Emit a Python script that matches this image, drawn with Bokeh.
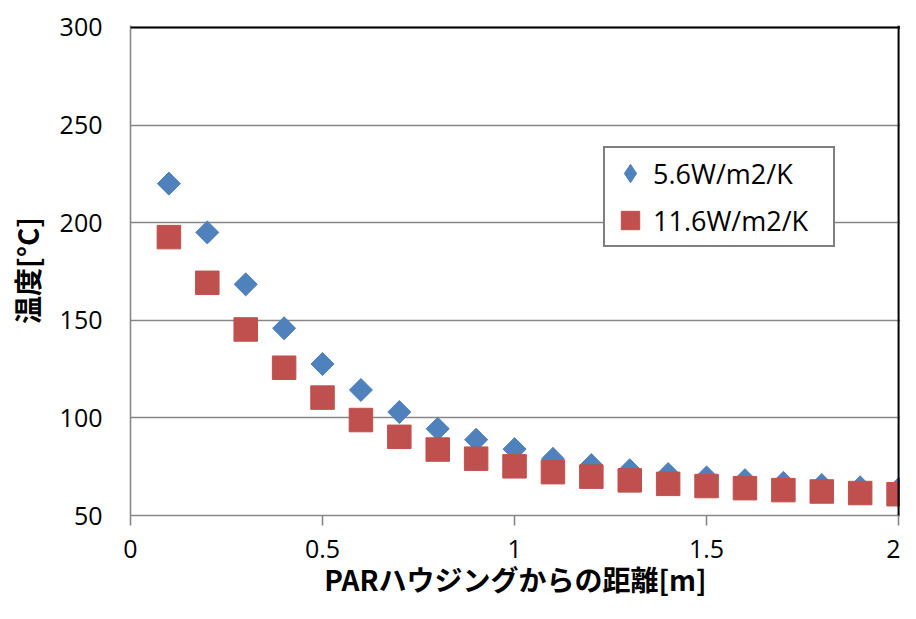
import math
from bokeh.plotting import figure
from bokeh.models import Range1d, Span, Legend, LegendItem, FixedTicker, ColumnDataSource
from bokeh.embed import file_html
from bokeh.resources import INLINE

distance = [0.1, 0.2, 0.3, 0.4, 0.5, 0.6, 0.7, 0.8, 0.9, 1.0,
            1.1, 1.2, 1.3, 1.4, 1.5, 1.6, 1.7, 1.8, 1.9, 2.0]
temp_56 = [220, 195, 168.4, 145.9, 127.6, 114.3, 103, 94.4, 88.8, 84,
           79, 75.8, 73.2, 71.2, 69.5, 68.1, 66.7, 65.6, 64.4, 63.5]
temp_116 = [192.6, 169.2, 145.3, 125.7, 110.4, 98.9, 90.3, 83.8, 79.1, 75.2,
            72.2, 69.9, 68, 66.2, 65.1, 64, 63, 62.3, 61.5, 60.9]
x_ticks = [0, 0.5, 1, 1.5, 2]
y_ticks = [50, 100, 150, 200, 250, 300]
label_56 = "5.6W/m2/K"
label_116 = "11.6W/m2/K"
x_title = "PARハウジングからの距離[m]"
y_title = "温度[°C]"

BLUE = "#4F81BD"
RED = "#C0504D"
GRID = "#878787"

p = figure(width=900, height=603, output_backend="svg", toolbar_location=None,
           x_range=Range1d(0, 2.005), y_range=Range1d(50, 301),
           min_border_left=130, min_border_top=25, min_border_right=0, min_border_bottom=88)
p.outline_line_color = None
p.background_fill_color = "white"
p.border_fill_color = "white"

p.xgrid.grid_line_color = None
p.ygrid.grid_line_color = GRID
p.ygrid.grid_line_width = 1.6
p.ygrid.ticker = FixedTicker(ticks=y_ticks)

p.xaxis.ticker = FixedTicker(ticks=x_ticks)
p.yaxis.ticker = FixedTicker(ticks=y_ticks)
p.xaxis.major_label_overrides = {0: "0", 0.5: "0.5", 1: "1", 1.5: "1.5", 2: "2"}
for ax in (p.xaxis, p.yaxis):
    ax.axis_line_color = GRID
    ax.axis_line_width = 1.6
    ax.major_tick_line_color = GRID
    ax.major_tick_line_width = 1.6
    ax.minor_tick_line_color = None
    ax.major_label_text_font = "Open Sans"
    ax.major_label_text_font_size = "25px"
    ax.major_label_text_color = "black"
    ax.axis_label_text_font = "Noto Sans CJK JP"
    ax.axis_label_text_font_style = "bold"
    ax.axis_label_text_font_size = "28px"
    ax.axis_label_text_color = "black"
p.xaxis.major_tick_out = 10
p.xaxis.major_tick_in = 0
p.xaxis.major_label_standoff = 14
p.yaxis.major_tick_out = 0
p.yaxis.major_tick_in = 0
p.yaxis.major_label_standoff = 28
p.yaxis.axis_label = y_title
p.yaxis.axis_label_standoff = 10
p.xaxis.axis_label = x_title
p.xaxis.axis_label_standoff = -2

p.add_layout(Span(location=300, dimension="width", line_color="black", line_width=2))
p.add_layout(Span(location=2, dimension="height", line_color="black", line_width=2))

src = ColumnDataSource(dict(x=distance, a=temp_56, b=temp_116))
r1 = p.scatter("x", "a", source=src, marker="square", size=16.3, angle=math.pi / 4,
               fill_color=BLUE, line_color=BLUE)
r2 = p.scatter("x", "b", source=src, marker="square", size=23.5,
               fill_color=RED, line_color=RED)
# legend-only glyph so the key shows a diamond
r1_key = p.scatter("x", "a", source=src, marker="diamond", size=16.3,
                   fill_color=BLUE, line_color=BLUE, visible=False)

legend = Legend(items=[LegendItem(label=label_56, renderers=[r1_key]),
                       LegendItem(label=label_116, renderers=[r2])],
                location=(473, 268), orientation="vertical",
                padding=2, spacing=1, margin=0,
                glyph_width=46, glyph_height=46, label_height=46, label_width=178,
                label_standoff=0,
                label_text_font="Open Sans", label_text_font_size="27px",
                label_text_color="black",
                border_line_color="black", border_line_width=2,
                background_fill_color="white", background_fill_alpha=1)
p.add_layout(legend)

open("out.html", "w").write(file_html(p, INLINE))
